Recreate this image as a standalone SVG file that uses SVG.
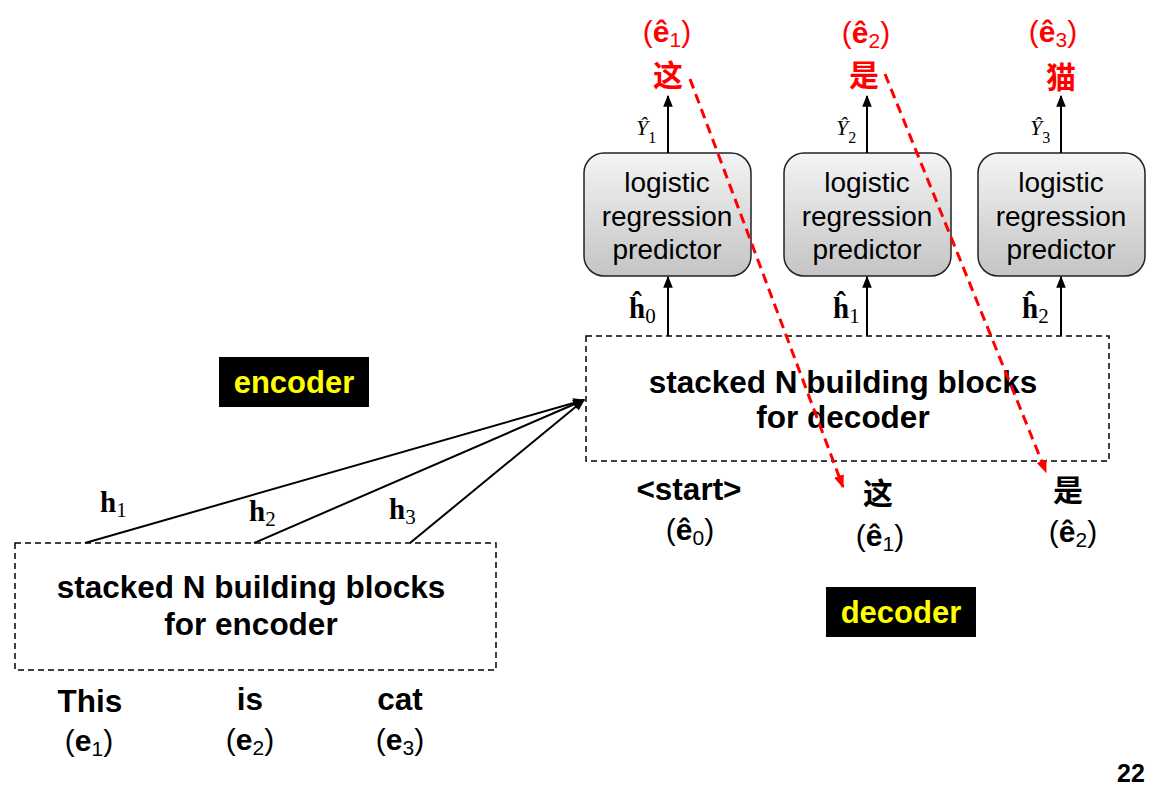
<svg xmlns="http://www.w3.org/2000/svg" width="1162" height="792" viewBox="0 0 1162 792">
<defs>
<linearGradient id="pg" x1="0" y1="0" x2="0" y2="1">
<stop offset="0" stop-color="#f4f4f4"/>
<stop offset="1" stop-color="#c4c4c4"/>
</linearGradient>
<marker id="ab" viewBox="0 0 10 10" refX="9" refY="5" markerWidth="12" markerHeight="12" markerUnits="userSpaceOnUse" orient="auto"><path d="M0,1 L10,5 L0,9 Z" fill="#000"/></marker>
<marker id="ar" viewBox="0 0 10 10" refX="9" refY="5" markerWidth="13" markerHeight="13" markerUnits="userSpaceOnUse" orient="auto"><path d="M0,1 L10,5 L0,9 Z" fill="#f00"/></marker>
</defs>
<style>
.sans{font-family:"Liberation Sans",Arial,"Noto Sans CJK SC",sans-serif}
.b{font-weight:bold}
.dash{fill:none;stroke:#000;stroke-width:1.5;stroke-dasharray:6,4}
.big{font-size:31.5px}
.par{font-size:30px}
.pred{font-size:28px;fill:#000}
.lbl{font-size:31px;fill:#ffff00;font-weight:bold}
.ser{font-family:"Liberation Serif","Times New Roman",serif}
.blk{stroke:#000;stroke-width:2;fill:none}
.red{stroke:#f00;stroke-width:3;fill:none;stroke-dasharray:10,6}
.rt{fill:#f00}
.cj{font-size:30px;font-weight:bold}
</style>
<rect width="1162" height="792" fill="#fff"/>

<g id="encoder-label">
<rect x="219" y="357" width="150" height="50" fill="#000"/>
<text x="294" y="393" text-anchor="middle" class="sans lbl">encoder</text>
</g>
<g id="decoder-label">
<rect x="826" y="587" width="150" height="50" fill="#000"/>
<text x="901" y="623" text-anchor="middle" class="sans lbl">decoder</text>
</g>

<g id="encoder-block">
<rect x="15" y="543" width="481" height="127" class="dash"/>
<text x="251" y="598" text-anchor="middle" class="sans b big">stacked N building blocks</text>
<text x="251" y="635" text-anchor="middle" class="sans b big">for encoder</text>
</g>

<g id="enc-inputs" class="sans">
<text x="90" y="712" text-anchor="middle" class="b big">This</text>
<text x="89" y="751" text-anchor="middle" class="par">(<tspan class="b">e</tspan><tspan font-size="21" dy="5">1</tspan><tspan dy="-5">)</tspan></text>
<text x="250" y="710" text-anchor="middle" class="b big">is</text>
<text x="250" y="750" text-anchor="middle" class="par">(<tspan class="b">e</tspan><tspan font-size="21" dy="5">2</tspan><tspan dy="-5">)</tspan></text>
<text x="400" y="710" text-anchor="middle" class="b big">cat</text>
<text x="400" y="750" text-anchor="middle" class="par">(<tspan class="b">e</tspan><tspan font-size="21" dy="5">3</tspan><tspan dy="-5">)</tspan></text>
</g>

<g id="decoder-block">
<rect x="586" y="336" width="523" height="125" class="dash"/>
<text x="843" y="393" text-anchor="middle" class="sans b big">stacked N building blocks</text>
<text x="843" y="428" text-anchor="middle" class="sans b big">for decoder</text>
</g>

<g id="predictor-1">
<rect x="584" y="153" width="167" height="123" rx="20" fill="url(#pg)" stroke="#222" stroke-width="1.5"/>
<text x="667" y="192" text-anchor="middle" class="sans pred">logistic</text>
<text x="667" y="226" text-anchor="middle" class="sans pred">regression</text>
<text x="667" y="259" text-anchor="middle" class="sans pred">predictor</text>
</g>
<g id="predictor-2">
<rect x="784" y="153" width="167" height="123" rx="20" fill="url(#pg)" stroke="#222" stroke-width="1.5"/>
<text x="867" y="192" text-anchor="middle" class="sans pred">logistic</text>
<text x="867" y="226" text-anchor="middle" class="sans pred">regression</text>
<text x="867" y="259" text-anchor="middle" class="sans pred">predictor</text>
</g>
<g id="predictor-3">
<rect x="978" y="153" width="167" height="123" rx="20" fill="url(#pg)" stroke="#222" stroke-width="1.5"/>
<text x="1061" y="192" text-anchor="middle" class="sans pred">logistic</text>
<text x="1061" y="226" text-anchor="middle" class="sans pred">regression</text>
<text x="1061" y="259" text-anchor="middle" class="sans pred">predictor</text>
</g>

<g id="dec-inputs" class="sans">
<text x="689" y="500" text-anchor="middle" class="b big">&lt;start&gt;</text>
<text x="690" y="540" text-anchor="middle" class="par">(<tspan class="b">ê</tspan><tspan font-size="21" dy="5">0</tspan><tspan dy="-5">)</tspan></text>
<text x="878" y="504" text-anchor="middle" class="cj">这</text>
<text x="880" y="546" text-anchor="middle" class="par">(<tspan class="b">ê</tspan><tspan font-size="21" dy="5">1</tspan><tspan dy="-5">)</tspan></text>
<text x="1068" y="501" text-anchor="middle" class="cj">是</text>
<text x="1073" y="542" text-anchor="middle" class="par">(<tspan class="b">ê</tspan><tspan font-size="21" dy="5">2</tspan><tspan dy="-5">)</tspan></text>
</g>

<g id="outputs" class="sans rt">
<text x="667" y="42" text-anchor="middle" class="par">(<tspan class="b">ê</tspan><tspan font-size="21" dy="5">1</tspan><tspan dy="-5">)</tspan></text>
<text x="668" y="86" text-anchor="middle" class="cj">这</text>
<text x="866" y="43" text-anchor="middle" class="par">(<tspan class="b">ê</tspan><tspan font-size="21" dy="5">2</tspan><tspan dy="-5">)</tspan></text>
<text x="864" y="86" text-anchor="middle" class="cj">是</text>
<text x="1053" y="42" text-anchor="middle" class="par">(<tspan class="b">ê</tspan><tspan font-size="21" dy="5">3</tspan><tspan dy="-5">)</tspan></text>
<text x="1061" y="88" text-anchor="middle" class="cj">猫</text>
</g>

<g id="connectors">
<line x1="85" y1="543" x2="584" y2="400" class="blk" marker-end="url(#ab)"/>
<line x1="254" y1="543" x2="584" y2="400" class="blk" marker-end="url(#ab)"/>
<line x1="410" y1="543" x2="584" y2="400" class="blk" marker-end="url(#ab)"/>
<line x1="668" y1="336" x2="668" y2="277" class="blk" marker-end="url(#ab)"/>
<line x1="867" y1="336" x2="867" y2="277" class="blk" marker-end="url(#ab)"/>
<line x1="1061" y1="336" x2="1061" y2="277" class="blk" marker-end="url(#ab)"/>
<line x1="668" y1="153" x2="668" y2="96" class="blk" marker-end="url(#ab)"/>
<line x1="867" y1="153" x2="867" y2="96" class="blk" marker-end="url(#ab)"/>
<line x1="1061" y1="153" x2="1061" y2="96" class="blk" marker-end="url(#ab)"/>
<line x1="690" y1="79" x2="843" y2="487" class="red" marker-end="url(#ar)"/>
<line x1="885" y1="74" x2="1046" y2="472" class="red" marker-end="url(#ar)"/>
</g>

<g id="connector-labels" class="ser">
<text x="100" y="512" font-size="29" font-weight="bold">h<tspan font-size="21" font-weight="normal" dy="5">1</tspan></text>
<text x="249" y="521" font-size="29" font-weight="bold">h<tspan font-size="21" font-weight="normal" dy="5">2</tspan></text>
<text x="389" y="519" font-size="29" font-weight="bold">h<tspan font-size="21" font-weight="normal" dy="5">3</tspan></text>
<text x="629" y="318" font-size="29" font-weight="bold">ĥ<tspan font-size="21" font-weight="normal" dy="5">0</tspan></text>
<text x="833" y="318" font-size="29" font-weight="bold">ĥ<tspan font-size="21" font-weight="normal" dy="5">1</tspan></text>
<text x="1022" y="318" font-size="29" font-weight="bold">ĥ<tspan font-size="21" font-weight="normal" dy="5">2</tspan></text>
<text x="636" y="135" font-size="22" font-style="italic">Ŷ<tspan font-size="16" font-style="normal" dy="8">1</tspan></text>
<text x="836" y="135" font-size="22" font-style="italic">Ŷ<tspan font-size="16" font-style="normal" dy="8">2</tspan></text>
<text x="1030" y="135" font-size="22" font-style="italic">Ŷ<tspan font-size="16" font-style="normal" dy="8">3</tspan></text>
</g>

<text x="1131" y="782" text-anchor="middle" class="sans b" font-size="25">22</text>
</svg>
